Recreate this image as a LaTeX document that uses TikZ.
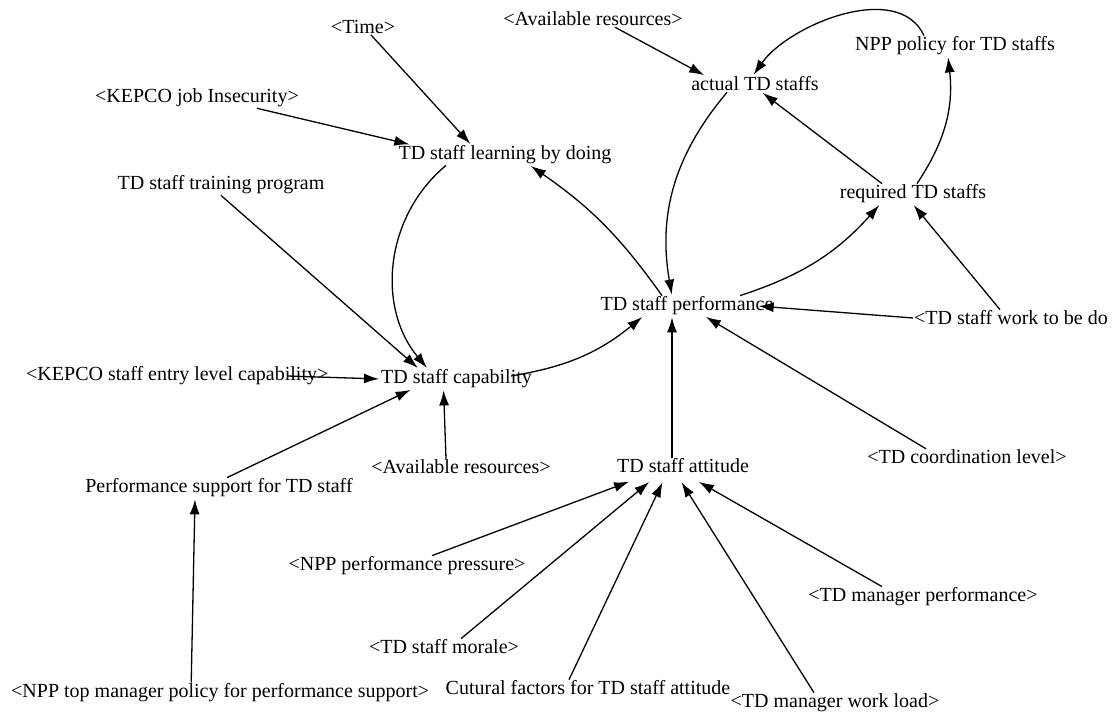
\documentclass[tikz,border=0pt]{standalone}
\usepackage{fontspec}
\setmainfont{Liberation Serif}
\usetikzlibrary{arrows.meta}

\tikzset{
  var/.style={inner sep=1pt, font=\fontsize{20}{23}\selectfont},
  link/.style={-{Latex[length=15pt,width=10pt]}, line width=1.3pt, shorten >=1pt},
}

\begin{document}
\begin{tikzpicture}[x=1pt, y=1pt]
  \useasboundingbox (0,0) rectangle (1116,-714);

  % staffing loop (top)
  \node[var] (time)      at (363,-27)  {<Time>};
  \node[var] (availTop)  at (593,-19)  {<Available resources>};
  \node[var] (nppPolicy) at (955,-46)  {NPP policy for TD staffs};
  \node[var] (actual)    at (755,-84)  {actual TD staffs};
  \node[var] (kepcoJob)  at (197,-98)  {<KEPCO job Insecurity>};
  \node[var] (learning)  at (505,-155) {TD staff learning by doing};
  \node[var] (training)  at (221,-185) {TD staff training program};
  \node[var] (required)  at (913,-194) {required TD staffs};

  % middle row
  \node[var] (performance) at (687,-306) {TD staff performance};
  \node[var, anchor=west] (workToDo) at (913,-318) {<TD staff work to be do};
  \node[var, anchor=west] (kepcoEntry) at (25,-376) {<KEPCO staff entry level capability>};
  \node[var, anchor=west] (capability) at (380,-379) {TD staff capability};
  \node[var] (availLow)     at (461,-467) {<Available resources>};
  \node[var] (attitude)     at (683,-466) {TD staff attitude};
  \node[var] (coordination) at (967,-457) {<TD coordination level>};
  \node[var] (perfSupport)  at (219,-488) {Performance support for TD staff};

  % attitude drivers (bottom)
  \node[var] (nppPressure) at (407,-566) {<NPP performance pressure>};
  \node[var] (morale)      at (444,-647) {<TD staff morale>};
  \node[var, anchor=west] (nppTop) at (10,-693) {<NPP top manager policy for performance support>};
  \node[var] (cultural)    at (588,-688) {Cutural factors for TD staff attitude};
  \node[var] (workload)    at (835,-703) {<TD manager work load>};
  \node[var] (mgrPerf)     at (923,-597) {<TD manager performance>};

  % links into learning and capability
  \draw[link] ([xshift=8pt]time.south) -- ([xshift=-34pt]learning.north);
  \draw[link] ([xshift=60pt]kepcoJob.south) -- ([xshift=13pt]learning.north west);
  \draw[link] ([xshift=-59pt]learning.south) to[bend right=45] ([xshift=-29pt]capability.north);
  \draw[link] (training.south) -- ([xshift=-38pt]capability.north);
  \draw[link] ([xshift=-42pt]kepcoEntry.east) -- (capability.west);
  \draw[link] ([xshift=8pt]perfSupport.north) -- ([xshift=-45pt]capability.south);
  \draw[link] ([xshift=-15pt]availLow.north) -- ([xshift=-13pt]capability.south);
  \draw[link] ([xshift=-29pt]nppTop.north) -- ([xshift=-24pt]perfSupport.south);

  % links around performance
  \draw[link] ([xshift=-22pt,yshift=3pt]capability.east) to[bend right=15] ([xshift=-44pt]performance.south);
  \draw[link] ([xshift=-25pt]performance.north) to[bend right=10] ([xshift=25pt]learning.south);
  \draw[link] ([xshift=-28pt]actual.south) to[bend right=25] ([xshift=-15pt]performance.north);
  \draw[link] ([xshift=53pt]performance.north) to[bend right=15] ([xshift=-33pt]required.south);
  \draw[link] ([xshift=-11pt]workToDo.north) -- (required.south);
  \draw[link] (workToDo.west) -- ([xshift=-17pt]performance.east);
  \draw[link] ([xshift=-41pt]coordination.north) -- ([xshift=18pt]performance.south);
  \draw[link] ([xshift=-11pt]attitude.north) -- ([xshift=-11pt]attitude.north |- performance.south);

  % staffing links
  \draw[link] ([xshift=-31pt]required.north) -- ([xshift=7pt]actual.south);
  \draw[link] ([xshift=4pt]required.north) to[bend right=20] ([xshift=-7pt]nppPolicy.south);
  \draw[link] ([xshift=-31pt]nppPolicy.north) to[out=115, in=55, looseness=0.9] ([xshift=-2pt]actual.north);
  \draw[link] ([xshift=22pt]availTop.south) -- ([xshift=-50pt]actual.north);

  % links into attitude
  \draw[link] ([xshift=25pt]nppPressure.north) -- ([xshift=-53pt,yshift=-7pt]attitude.south);
  \draw[link] ([xshift=17pt]morale.north) -- ([xshift=-33pt,yshift=-7pt]attitude.south);
  \draw[link] ([xshift=-19pt]cultural.north) -- ([xshift=-20pt,yshift=-7pt]attitude.south);
  \draw[link] ([xshift=-21pt]workload.north) -- ([xshift=-2pt,yshift=-7pt]attitude.south);
  \draw[link] ([xshift=-41pt]mgrPerf.north) -- ([xshift=15pt,yshift=-7pt]attitude.south);
\end{tikzpicture}
\end{document}
